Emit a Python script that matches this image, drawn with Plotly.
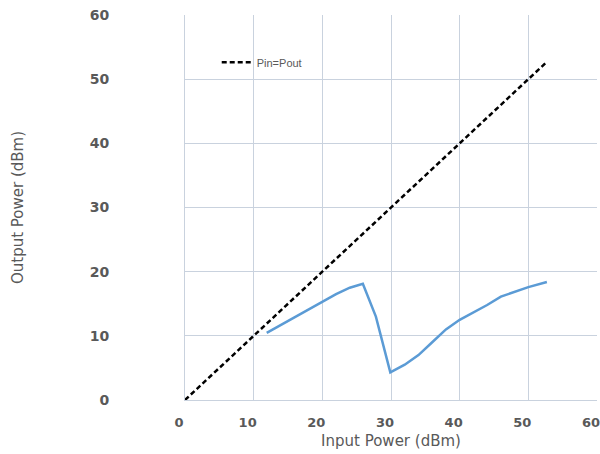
import plotly.graph_objects as go

pin = [11.9, 14, 16, 18, 20, 22, 24, 25.9, 27.8, 29.9, 32, 34, 36, 38, 40, 42, 44, 46, 48, 50, 52.7]
pout = [10.45, 11.7, 12.9, 14.1, 15.3, 16.5, 17.5, 18.1, 13.0, 4.3, 5.5, 7.0, 9.0, 11.0, 12.5, 13.6, 14.8, 16.1, 16.9, 17.6, 18.4]
ref_x = [0] + pin
ref_y = [0] + pin

x_ticks = [0, 10, 20, 30, 40, 50, 60]
y_ticks = [0, 10, 20, 30, 40, 50, 60]

grid = "#c9d2de"

fig = go.Figure()
fig.add_trace(go.Scatter(x=ref_x, y=ref_y, mode="lines", name="Pin=Pout",
                         line=dict(color="black", width=2.5, dash="5px,3px")))
fig.add_trace(go.Scatter(x=pin, y=pout, mode="lines", name="Output", showlegend=False,
                         line=dict(color="#5B9BD5", width=2.5)))

fig.update_layout(
    width=600, height=454,
    margin=dict(l=185, r=0, t=15, b=54),
    plot_bgcolor="white", paper_bgcolor="white",
    showlegend=True,
    legend=dict(x=0.077, y=0.877, xanchor="left", yanchor="middle", bgcolor="rgba(0,0,0,0)",
                font=dict(family="Liberation Sans Narrow, Liberation Sans", size=11, color="#595959"),
                itemwidth=30),
    xaxis=dict(range=[0, 60], tickvals=x_ticks, showgrid=True, gridcolor=grid, gridwidth=1,
               zeroline=False, showline=True, linecolor=grid,
               tickfont=dict(family="DejaVu Sans", size=13, color="#595959", weight="bold"),
               ticks="", ticklabelstandoff=10, ticklabelshift=-6, ticklabeloverflow="allow",
               title=dict(text="Input Power (dBm)", standoff=6,
                          font=dict(family="DejaVu Sans", size=15, color="#595959"))),
    yaxis=dict(range=[0, 60], tickvals=y_ticks, showgrid=True, gridcolor=grid, gridwidth=1,
               zeroline=False, showline=True, linecolor=grid,
               tickfont=dict(family="DejaVu Sans", size=14, color="#595959", weight="bold"),
               ticks="", ticklabelstandoff=72,
               title=dict(text="Output Power (dBm)", standoff=62,
                          font=dict(family="DejaVu Sans", size=15, color="#595959"))),
)

fig.write_html("out.html")
